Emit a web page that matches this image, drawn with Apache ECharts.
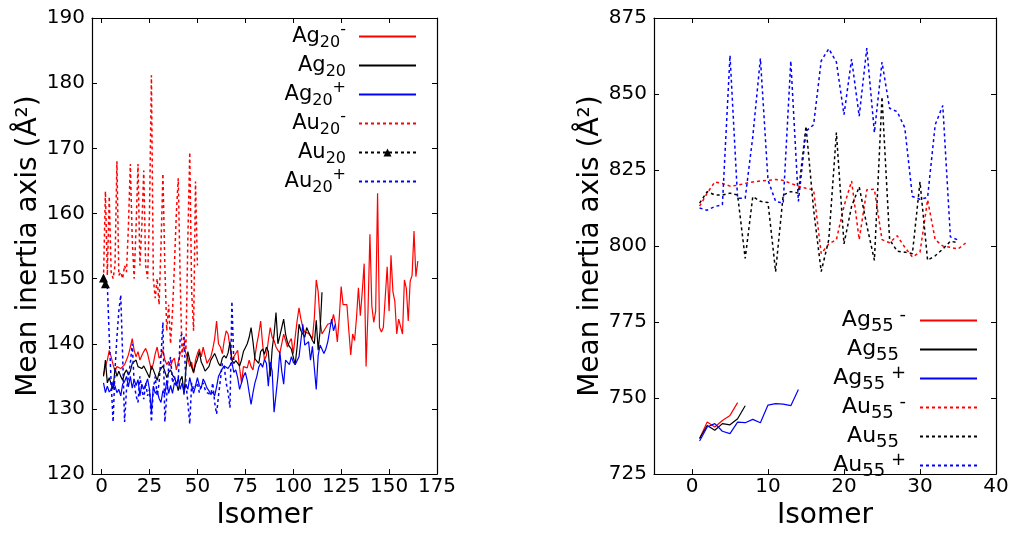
<!DOCTYPE html>
<html><head><meta charset="utf-8">
<script src="https://cdn.jsdelivr.net/npm/echarts@6/dist/echarts.min.js"></script>
<style>html,body{margin:0;padding:0;background:#fff}#c{width:1015px;height:535px}</style>
</head><body><div id="c"></div>
<script>
// ---------- Left panel (20-atom clusters), isomer index starts at 1 ----------
const ag20m = [135.2,136.5,137.5,139,138,136.8,135.8,136.5,136.8,136.2,136.5,136.8,137.5,138.3,139.5,140.8,139,138,138.8,137.5,
138.2,138.8,139.3,138.5,137.2,136,137,138.5,139.5,137.8,138.2,139,137.6,136.8,137.3,136.6,137.4,137.8,136,137.2,
138.5,139,139.5,138.5,137.8,136.5,137.2,135.5,137.5,138.5,139.2,138,139.5,138.2,137,137.5,138,139.2,140.8,143.5,
140,139.5,138.5,140.5,142,141.5,139.5,137.5,137.2,138.5,139,136.3,134,136.5,136.8,136.3,137.5,136.5,136,138,
140,141.5,143.5,140,137.5,138.2,140.5,142.5,141,140.5,139.5,139,138.6,140,141.5,140.5,139.5,140.3,140.8,138.5,
141,143.5,145.5,143.8,142.5,141.8,142,141.6,141.2,140.8,144,149.8,148,143.5,141.5,141.8,142.5,143,142.8,143.2,
144.5,143,140.3,144,148.8,146,145.8,146,142,138.3,141.5,140.5,144,148.6,144.3,148,152.3,136.5,145,156.8,
145.8,143.3,145,163.1,142.5,141.8,142.5,142.5,151.8,145,153.6,148,146.5,141.5,143.8,143.5,141.5,149.8,148.5,143.5,
149.6,150.5,157.3,150.3,152.7];
const ag20 = [135,137.5,134,134.8,133.8,133,136.3,135,135.8,135,134.4,135.5,136,135.2,135.8,137,137.3,137.5,136.5,136.6,
136.2,136.6,136,135.8,134.8,136.6,136,135.2,134.4,135.6,136.2,136.6,135.8,134.8,135.6,136,135.2,134.8,134,132.8,
134.4,135,132.2,136,138.8,137.5,136.4,135.6,136.8,137.6,138.8,137.2,136.6,135.8,135.5,136.5,137.5,137.8,138.5,137.8,
137,136.6,137.8,138.2,137.8,138.6,140.3,137.5,137,137.4,137.2,136.6,137.5,138.8,139.4,140,141,142.5,140.3,137.7,
137.5,137,138.8,139.2,138.4,139.5,138.8,135,139.2,141.5,144.8,140,141.2,142.5,143.8,141.5,140.2,139.6,139.2,138,
136.8,139.5,143,142,141.5,141,142.5,141.8,141.2,140.5,140,143.6,139,142,147.9];
const ag20p = [134,132.5,133.5,132.6,133,134.2,133.5,132.5,133,132,133.8,134.2,135,133.4,135,133.2,134.5,133.6,134.5,132,
133.8,133,132.8,134.6,133,129.5,133.5,132.4,132.8,131.6,131,132.8,132.2,134.4,132.4,133.6,132.4,134,133.6,134.8,
133,134,132.5,133.8,133,134.8,133.5,132.4,133.5,134.8,133.6,133.2,134.6,134,133.2,132.8,132.2,132.6,132,133.4,
135,135.6,136.2,136.6,136.8,136.2,136.5,137.2,135.6,136,134.8,133,134,135,135.6,134.4,132.5,130.7,132.5,134,
135,136.4,137,136.4,137.6,137,133.5,137.2,135.8,129.5,132.2,135,138.8,135.8,133.8,137.5,137.5,136.8,138,137.2,
136.8,136.5,138,140.5,143,139.8,140,140.3,137.5,139.6,139.8,133,138.2,139.8,139.6,138.5,139.2,140.3,142,143.8,
142,143];
const au20m = [150,163.4,150.5,162.6,151,150,152,168,150.5,151,150,152,151,158,167.6,156,150,158,167.6,152,
158,166.6,152,150,160,181.2,150,147,150,146,155,166.1,152,142,146,140,145,152,160,165.4,
150,138,141,139,156,169.4,148,142,164.9,152];
const au20 = [150.1,149.2];
const au20p = [149.5,149.3,149,141,134,128,136,141,145,147.5,138,128,133,135,137,140,134,132,131,135,
133,131.5,134,132,133,128,133,135,132,134,138,143.3,128,132,136.5,138,134,135,133.5,134.5,
141,141.5,141,134,131,127.7,134,133,133.5,134,132.5,133.6,134,133,132.5,132.8,132.2,134,131,129.2,
132,134.5,137,136.5,134,132.5,130.2,146.5,137];

// ---------- Right panel (55-atom clusters) ----------
const ag55m = [736.7,742.1,740.5,742.6,744.3,748.5];
const ag55 = [736.7,741,739.4,741.6,741.2,743.2,747.5];
const ag55p = [735.9,740.5,741.6,739.1,738.3,742.1,741.9,743,741.9,747.7,748.2,748,747.5,752.8];
const au55m = [813.1,817.4,821.1,820.6,819.7,820,820.6,821.1,821.4,821.6,821.9,821.6,820.6,819.7,819,818.5,797.5,800.7,802.1,813.1,
821.4,802.1,818.5,818.7,802.1,801.1,803.4,799.6,796.4,798,815.2,802.1,800,799.6,799,801];
const au55 = [814.1,817.9,816.8,816.8,817.4,816.8,795.9,816.3,814.7,814.3,791.6,816.8,817.9,817.4,839.4,812,791.6,802.1,837.3,800.7,
813.1,819.5,806.8,795.3,849.1,802.1,798.3,798,797.5,821.1,795.3,796.8,799,801.6,801.1];
const au55p = [812.5,811.8,813,813.6,862.7,815.7,815.7,836,861.7,821.7,814.7,814.1,860.9,814.7,837.8,839.9,860.9,864.9,860.5,843.2,
861.5,842.7,865.1,837.3,860.5,845.3,844.2,838.9,816.3,815.4,816,839.9,846.2,803,802];

// ---------- Axis ticks ----------
const leftXTicks = [0,25,50,75,100,125,150,175];
const rightXTicks = [0,10,20,30,40];

const FONT = 'DejaVu Sans';
const chart = echarts.init(document.getElementById('c'), null, {renderer:'canvas'});

function mk(name, vals, color, dashed, idx, marker) {
  return {
    type:'line', name: name, xAxisIndex: idx, yAxisIndex: idx,
    data: vals.map((v,i)=>[i+1, v]),
    symbol: marker ? 'triangle' : 'none', symbolSize: 9, showSymbol: !!marker,
    itemStyle:{color: marker ? '#000' : color},
    lineStyle:{color: color, width: dashed ? 1.5 : 1.2, type: dashed ? [3,3] : 'solid'},
    animation:false, silent:true
  };
}

function xAx(grid, min, max, ticks, pos) {
  const bottom = pos === 'bottom';
  return {
    type:'value', gridIndex: grid, position: pos, min: min, max: max,
    name: bottom ? 'Isomer' : '', nameLocation:'middle', nameGap: 26,
    nameTextStyle:{fontFamily:FONT, fontSize:28, color:'#000'},
    axisLine:{show:true, onZero:false, lineStyle:{color:'#000', width:1.2}},
    axisTick:{show:true, inside:true, length:5, customValues: ticks, lineStyle:{color:'#000'}},
    axisLabel:{show: bottom, customValues: ticks, margin:3, fontFamily:FONT, fontSize:20, color:'#000'},
    splitLine:{show:false}
  };
}
function yAx(grid, min, max, interval, pos) {
  const left = pos === 'left';
  return {
    type:'value', gridIndex: grid, position: pos, min: min, max: max, interval: interval,
    name: left ? 'Mean inertia axis (Å²)' : '', nameLocation:'middle', nameGap: 48,
    nameTextStyle:{fontFamily:FONT, fontSize:28, color:'#000'},
    axisLine:{show:true, onZero:false, lineStyle:{color:'#000', width:1.2}},
    axisTick:{show:true, inside:true, length:5, lineStyle:{color:'#000'}},
    axisLabel:{show: left, margin:7, fontFamily:FONT, fontSize:20, color:'#000'},
    splitLine:{show:false}
  };
}

function makeRich(bs, ss) {
  return {
    b:{fontFamily:FONT, fontSize:bs, color:'#000', lineHeight:29, height:29, verticalAlign:'middle'},
    s:{fontFamily:FONT, fontSize:ss, color:'#000', lineHeight:21, verticalAlign:'bottom'},
    p:{fontFamily:FONT, fontSize:ss, color:'#000', lineHeight:16, verticalAlign:'top'},
    w:{fontFamily:FONT, fontSize:ss, color:'#000', width:7}
  };
}
function fmt(spaceSign) {
  return function(name) {
    const base = name.slice(0,2);
    const m = name.slice(2).match(/^(\d+)(.*)$/);
    const sub = m[1], sign = m[2];
    let s = '{b|' + base + '}{s|' + sub + '}';
    if (sign) s += '{p|' + (spaceSign ? ' ' : '') + sign + '}';
    else if (spaceSign) s += '{w| }';
    return s;
  };
}
function legend(names, markerName, right, top, spaceSign, bs, ss, padR) {
  return {
    data: names.map(n => n === markerName
      ? {name: n, itemStyle:{color:'#000', borderWidth:0}}
      : {name: n, itemStyle:{color:'rgba(0,0,0,0)', borderWidth:0, opacity:0}}),
    orient:'vertical', align:'right', right: right, top: top, padding:0,
    itemGap:0, itemWidth:57, itemHeight:10, selectedMode:false,
    formatter: fmt(spaceSign),
    textStyle:{fontFamily:FONT, fontSize:bs, color:'#000', lineHeight:29, height:29,
               padding:[0, padR, 0, 0], rich: makeRich(bs, ss)}
  };
}

const leftNames = ['Ag20-','Ag20','Ag20+','Au20-','Au20','Au20+'];
const rightNames = ['Ag55-','Ag55','Ag55+','Au55-','Au55','Au55+'];

chart.setOption({
  backgroundColor:'#fff',
  animation:false,
  grid:[
    {left:92, top:18, width:345, height:465},
    {left:654, top:18, width:342, height:465}
  ],
  xAxis:[
    xAx(0, -5, 175, leftXTicks, 'bottom'),
    xAx(1, -5, 40, rightXTicks, 'bottom'),
    xAx(0, -5, 175, leftXTicks, 'top'),
    xAx(1, -5, 40, rightXTicks, 'top')
  ],
  yAxis:[
    yAx(0, 120, 190, 10, 'left'),
    yAx(1, 725, 875, 25, 'left'),
    yAx(0, 120, 190, 10, 'right'),
    yAx(1, 725, 875, 25, 'right')
  ],
  legend:[
    legend(leftNames, 'Au20', 598, 22, false, 21, 16, 8),
    legend(rightNames, null, 37, 306, true, 22, 18, 9)
  ],
  series:[
    mk('Ag20-', ag20m, '#ff0000', false, 0),
    mk('Ag20', ag20, '#000000', false, 0),
    mk('Ag20+', ag20p, '#0000ff', false, 0),
    mk('Au20-', au20m, '#ff0000', true, 0),
    mk('Au20', au20, '#000000', true, 0, true),
    mk('Au20+', au20p, '#0000ff', true, 0),
    mk('Ag55-', ag55m, '#ff0000', false, 1),
    mk('Ag55', ag55, '#000000', false, 1),
    mk('Ag55+', ag55p, '#0000ff', false, 1),
    mk('Au55-', au55m, '#ff0000', true, 1),
    mk('Au55', au55, '#000000', true, 1),
    mk('Au55+', au55p, '#0000ff', true, 1)
  ]
});
</script></body></html>
